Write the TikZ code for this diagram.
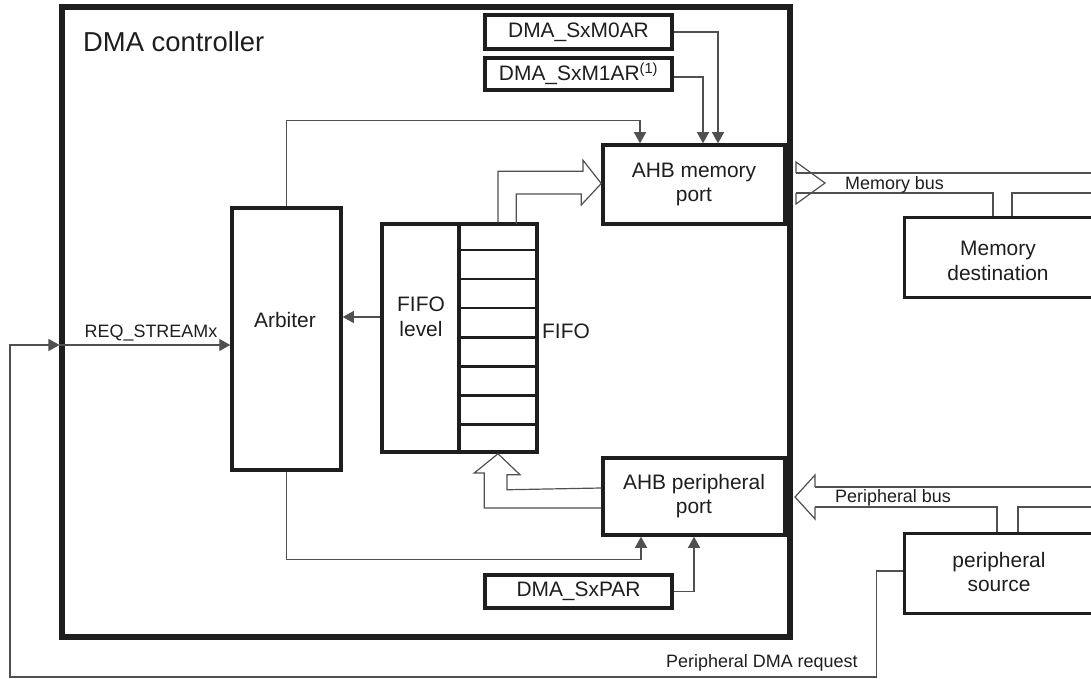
\documentclass[tikz,border=0pt]{standalone}
\usepackage{fontspec}
\setmainfont{Liberation Sans}
\usetikzlibrary{arrows.meta,calc}
\definecolor{ink}{HTML}{1E1E1E}
\definecolor{wirec}{HTML}{505050}
\begin{document}
\begin{tikzpicture}[x=1bp,y=-1bp,
  box/.style={draw=ink,line width=3.5bp,rectangle,inner sep=0pt,text=ink,
    font=\fontsize{21}{24}\selectfont,align=center},
  txt/.style={text=ink,font=\fontsize{21}{24.5}\selectfont,align=center,inner sep=0pt},
  small/.style={text=ink,font=\fontsize{18}{21}\selectfont,inner sep=0pt},
  wire/.style={draw=wirec,line width=1.2bp},
  tip/.style={wire,-{Triangle[length=11bp,width=12bp]}},
]
\useasboundingbox (0,0) rectangle (1091,679);
\clip (0,0) rectangle (1091,679);
\fill[white] (0,0) rectangle (1091,679);

% outer controller
\node[draw=ink,line width=6bp,minimum width=727bp,minimum height=629bp,inner sep=0pt] (dma) at (426,322) {};
\node[text=ink,font=\fontsize{27.5}{30}\selectfont,inner sep=0pt,anchor=base west] (dmalbl) at (83,52) {DMA controller};

% registers
\node[box,minimum width=187bp,minimum height=34bp] (m0ar) at (578.5,32) {DMA\_SxM0AR};
\node[box,minimum width=187bp,minimum height=32bp] (m1ar) at (578.5,74) {DMA\_SxM1AR\textsuperscript{(1)}};
\node[box,minimum width=187bp,minimum height=33bp] (sxpar) at (578.5,591.5) {DMA\_SxPAR};

% ports
\node[box,minimum width=182bp,minimum height=79bp] (memport) at (694,184.5) {AHB memory\\port};
\node[box,minimum width=182bp,minimum height=77bp] (perport) at (694,496.5) {AHB peripheral\\port};

% arbiter
\node[box,minimum width=109bp,minimum height=262bp] (arbiter) at (286.5,339) {};
\node[txt] (arbtxt) at (285,320) {Arbiter};

% FIFO
\node[box,minimum width=77bp,minimum height=228bp] (fifolvl) at (420.5,338) {};
\node[box,minimum width=78bp,minimum height=228bp] (fifocells) at (498,338) {};
\node[txt] (fifolvltxt) at (421,317) {FIFO\\level};
\node[txt,anchor=base west] (fifotxt) at (542,338) {FIFO};
\foreach \d in {28,57,86,115,144,173,202}
  \draw[draw=ink,line width=2.5bp] ($(fifocells.north west)+(0,\d)$) -- ($(fifocells.north east)+(0,\d)$);

% external blocks
\node[box,line width=3bp,minimum width=200bp,minimum height=79bp] (memdest) at (1004,257.5) {};
\node[txt] (memdesttxt) at (998,261) {Memory\\destination};
\node[box,line width=3bp,minimum width=200bp,minimum height=80bp] (persrc) at (1004,573) {};
\node[txt] (persrctxt) at (999,572) {peripheral\\source};

% register connections
\draw[tip] (m0ar.east) -| ([xshift=24bp]memport.north);
\draw[tip] ([yshift=-3bp]m1ar.east) -| ([xshift=9bp]memport.north);
\draw[tip] (arbiter.north) -- ++(0,-86) -| ([xshift=-54bp]memport.north);
\draw[tip] (arbiter.south) -- ++(0,88) -| ([xshift=-53bp]perport.south);
\draw[tip] (sxpar.east) -| (perport.south);

% FIFO level -> arbiter
\coordinate (fl) at ($(fifolvl.west)+(0,-21)$);
\draw[tip] (fl) -- (fl -| arbiter.east);

% hollow arrow FIFO -> memory port
\draw[wire] (fifocells.north) -- ++(0,-51) -- ++(85,0) -- ++(0,-11)
  -- ([yshift=1bp]memport.west) -- ++(-20,21.5) -- ++(0,-11) -- ++(-65,0) -- ++(0,30);

% hollow arrow peripheral port -> FIFO
\draw[wire] ($(perport.west)+(0,11.5)$) -- ++(-117,0) -- ++(0,-35) -- ++(-10,0)
  -- (fifocells.south) -- ++(22,21) -- ++(-13,0) -- ++(0,15) -- ($(perport.west)+(0,-8.5)$);

% memory bus
\coordinate (mb) at ($(dma.east |- memport.east)+(0,-1.5)$);
\draw[wire] ($(mb)+(3.5,-10)$) -- ++(0,-11) -- ++(29,21) -- ++(-29,21) -- ++(0,-11);
\draw[wire] ($(mb)+(3.5,-10)$) -- ($(mb -| memdest.east)+(0,-10)$);
\draw[wire] ($(mb)+(3.5,10)$) -| ([xshift=-11bp]memdest.north);
\draw[wire] ([xshift=8bp]memdest.north) |- ($(mb -| memdest.east)+(0,10)$);
\node[small,anchor=base west] (mbus) at ($(mb)+(52.5,7)$) {Memory bus};

% peripheral bus
\coordinate (pb) at ($(dma.east |- perport.east)+(0,0.5)$);
\draw[wire] ($(pb)+(22.5,-10)$) -- ++(0,-12) -- ($(pb)+(2.5,0)$) -- ($(pb)+(22.5,22)$) -- ++(0,-12);
\draw[wire] ($(pb)+(22.5,-10)$) -- ($(pb -| persrc.east)+(0,-10)$);
\draw[wire] ($(pb)+(22.5,10)$) -| ([xshift=-7bp]persrc.north);
\draw[wire] ([xshift=14bp]persrc.north) |- ($(pb -| persrc.east)+(0,10)$);
\node[small,anchor=base west] (pbus) at ($(pb)+(42.5,5)$) {Peripheral bus};

% DMA request loop
\coordinate (bl) at (10,677);
\coordinate (reqin) at ($(arbiter.west)+(0,6)$);
\draw[tip] ($(persrc.west)+(0,-2)$) -- ++(-26,0) |- (bl) |- (reqin -| dma.west);
\draw[tip] (reqin -| dma.west) -- (reqin);
\node[small,anchor=base] (reqlbl) at (151,337) {REQ\_STREAMx};
\node[small,anchor=base west] (pdmalbl) at (666,667) {Peripheral DMA request};
\end{tikzpicture}
\end{document}
